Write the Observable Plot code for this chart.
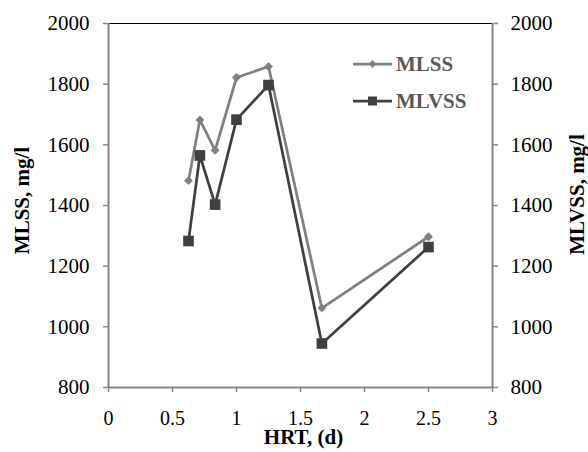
<!DOCTYPE html>
<html>
<head>
<meta charset="utf-8">
<script src="https://cdn.jsdelivr.net/npm/d3@7"></script>
<script src="https://cdn.jsdelivr.net/npm/@observablehq/plot@0.6"></script>
<style>
  html, body { margin: 0; padding: 0; background: #fff; }
  #chart svg { display: block; font-family: "Liberation Serif", "Times New Roman", serif; }
</style>
</head>
<body>
<div id="chart"></div>
<script>
// Data
const hrt = [0.625, 0.714, 0.833, 1.0, 1.25, 1.667, 2.5];
const mlss = [1482, 1682, 1582, 1822, 1858, 1062, 1297];
const mlvss = [1283, 1565, 1403, 1683, 1797, 945, 1263];
const seriesNames = ["MLSS", "MLVSS"];
const xTicks = [0, 0.5, 1, 1.5, 2, 2.5, 3];
const yTicks = [800, 1000, 1200, 1400, 1600, 1800, 2000];
const xDomain = [0, 3];
const yDomain = [800, 2000];
const xTitle = "HRT, (d)";
const yTitleLeft = "MLSS, mg/l";
const yTitleRight = "MLVSS, mg/l";

const ssData = hrt.map((x, i) => ({x, y: mlss[i]}));
const vssData = hrt.map((x, i) => ({x, y: mlvss[i]}));

const C_SS = "#808080";
const C_VSS = "#404040";
const AXIS = "#868686";
const FONT = "Liberation Serif";
const FS = 21;

const plot = Plot.plot({
  width: 588,
  height: 452,
  marginLeft: 108,
  marginRight: 96,
  marginTop: 23,
  marginBottom: 65,
  style: {fontFamily: FONT, fontSize: FS + "px", background: "#fff", color: "#000"},
  x: {domain: xDomain},
  y: {domain: yDomain},
  marks: [
    Plot.ruleY([yDomain[1]], {stroke: "#000", strokeWidth: 1}),
    Plot.ruleX([xDomain[1]], {stroke: AXIS, strokeWidth: 2}),
    Plot.ruleX([xDomain[0]], {stroke: AXIS, strokeWidth: 2}),
    Plot.ruleY([yDomain[0]], {stroke: AXIS, strokeWidth: 2}),
    Plot.axisX({ticks: xTicks, tickFormat: d => String(d), tickSize: 5, tickPadding: 18, stroke: AXIS, strokeWidth: 1.5, fill: "#000", label: null, fontSize: 20, fontFamily: FONT}),
    Plot.axisY({anchor: "left", ticks: yTicks, tickFormat: d => String(d), tickSize: 5, tickPadding: 14, stroke: AXIS, strokeWidth: 1.5, fill: "#000", label: null, fontSize: FS, fontFamily: FONT}),
    Plot.axisY({anchor: "right", ticks: yTicks, tickFormat: d => String(d), tickSize: 5, tickPadding: 13, stroke: AXIS, strokeWidth: 1.5, fill: "#000", label: null, fontSize: FS, fontFamily: FONT}),
    Plot.line(ssData, {x: "x", y: "y", stroke: C_SS, strokeWidth: 2.75}),
    Plot.dot(ssData, {x: "x", y: "y", symbol: "diamond2", r: 4, fill: C_SS, stroke: null}),
    Plot.line(vssData, {x: "x", y: "y", stroke: C_VSS, strokeWidth: 2.75}),
    Plot.dot(vssData, {x: "x", y: "y", symbol: "square", r: 6, fill: C_VSS, stroke: null}),
    Plot.text([xTitle], {frameAnchor: "bottom", textAnchor: "middle", dx: 3, dy: 56.5, fontWeight: "bold", fontSize: FS, fontFamily: FONT, fill: "#000"}),
    Plot.text([yTitleLeft], {frameAnchor: "left", textAnchor: "middle", dx: -86, dy: -5, rotate: -90, fontWeight: "bold", fontSize: FS, fontFamily: FONT, fill: "#000"}),
    Plot.text([yTitleRight], {frameAnchor: "right", textAnchor: "middle", dx: 85, dy: -11, rotate: -90, fontWeight: "bold", fontSize: FS, fontFamily: FONT, fill: "#000"})
  ]
});

// Legend (drawn in pixel space, top-right inside the plot area)
const svg = d3.select(plot);
const legend = svg.append("g")
  .attr("font-family", FONT)
  .attr("font-size", FS)
  .attr("font-weight", "bold")
  .attr("text-anchor", "start");
const items = [
  {name: seriesNames[0], color: C_SS, sym: "diamond", y: 64},
  {name: seriesNames[1], color: C_VSS, sym: "square", y: 101}
];
items.forEach(it => {
  legend.append("line").attr("x1", 353).attr("x2", 392).attr("y1", it.y).attr("y2", it.y)
    .attr("stroke", it.color).attr("stroke-width", 2.75);
  if (it.sym === "diamond") {
    legend.append("path").attr("d", d3.symbol(d3.symbolDiamond2, 40)()).attr("transform", `translate(372.5,${it.y})`).attr("fill", it.color);
  } else {
    legend.append("rect").attr("x", 368).attr("y", it.y - 4.5).attr("width", 9).attr("height", 9).attr("fill", it.color);
  }
  legend.append("text").attr("x", 396).attr("y", it.y).attr("dy", "0.34em").attr("fill", "#595959").text(it.name);
});

document.getElementById("chart").appendChild(plot);
</script>
</body>
</html>
